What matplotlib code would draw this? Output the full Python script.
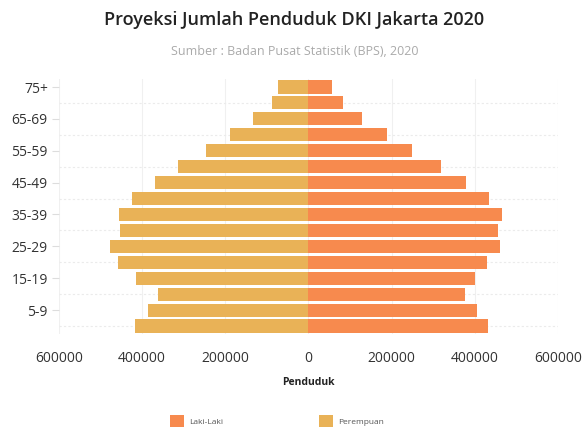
import matplotlib
matplotlib.use("Agg")
import matplotlib.pyplot as plt
from matplotlib.patches import Patch
import numpy as np

age_groups = ["0-4", "5-9", "10-14", "15-19", "20-24", "25-29", "30-34", "35-39",
              "40-44", "45-49", "50-54", "55-59", "60-64", "65-69", "70-74", "75+"]
laki_laki = [433000, 405000, 376000, 401000, 430000, 461000, 456000, 465000,
             434000, 378000, 318000, 250000, 188000, 129000, 82000, 56000]
perempuan = [418000, 386000, 362000, 414000, 459000, 476000, 452000, 455000,
             423000, 370000, 314000, 247000, 188000, 134000, 88000, 72000]
x_ticks = [-600000, -400000, -200000, 0, 200000, 400000, 600000]
x_ticklabels = ["600000", "400000", "200000", "0", "200000", "400000", "600000"]

male_color = "#F78A4E"
female_color = "#E9B257"

plt.rcParams['font.family'] = ['Open Sans', 'DejaVu Sans']

fig = plt.figure(figsize=(5.83, 4.32), dpi=100)
ax = fig.add_axes([0.101, 0.227, 0.856, 0.590])

y = np.arange(len(age_groups))
ax.barh(y, laki_laki, height=0.82, color=male_color, zorder=3)
ax.barh(y, [-v for v in perempuan], height=0.82, color=female_color, zorder=3)

ax.set_xlim(-600000, 600000)
ax.set_ylim(-0.5, len(age_groups) - 0.5)
ax.set_xticks(x_ticks)
ax.set_xticklabels(x_ticklabels, fontsize=10, color="#333333")
ax.set_yticks(y[1::2])
ax.set_yticklabels(age_groups[1::2], fontsize=10, color="#333333")
ax.tick_params(axis='x', length=0, pad=12)
ax.tick_params(axis='y', length=5, color="#dddddd", pad=3)

for s in ax.spines.values():
    s.set_visible(False)

for xv in x_ticks:
    ax.axvline(xv, color="#f0f0f0", lw=0.8, zorder=1)
for yv in y[::2]:
    ax.axhline(yv, color="#ebebeb", lw=0.8, ls=(0, (2, 2)), zorder=1)

ax.set_xlabel("Penduduk", fontsize=7.5, fontweight='bold', color="#222222", labelpad=8)

fig.text(0.505, 0.953, "Proyeksi Jumlah Penduduk DKI Jakarta 2020", ha='center', va='center',
         fontsize=13, fontweight='semibold', color="#222222")
fig.text(0.505, 0.880, "Sumber : Badan Pusat Statistik (BPS), 2020", ha='center', va='center',
         fontsize=9, color="#aaaaaa")

handles = [Patch(facecolor=male_color, label="Laki-Laki"),
           Patch(facecolor=female_color, label="Perempuan")]
fig.legend(handles=handles, loc='center', bbox_to_anchor=(0.475, 0.025), ncol=2,
           frameon=False, fontsize=6, handlelength=1.7, handleheight=1.8,
           columnspacing=11.5, handletextpad=0.6, labelcolor="#555555")

fig.savefig("out.png", dpi=100)
